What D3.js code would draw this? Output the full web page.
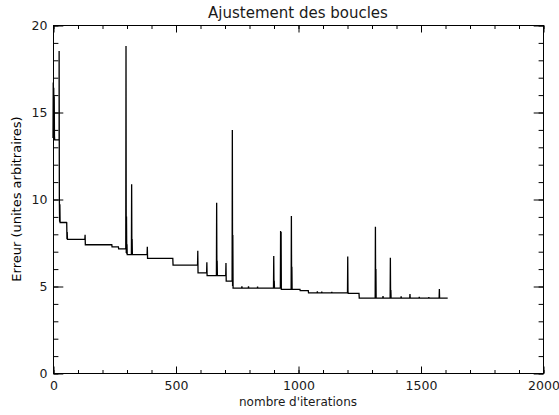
<!DOCTYPE html>
<html>
<head>
<meta charset="utf-8">
<script src="https://cdn.jsdelivr.net/npm/d3@7"></script>
<style>
  html, body { margin: 0; padding: 0; background: #fff; }
  svg { display: block; }
  text { font-family: "DejaVu Sans", sans-serif; fill: #1a1a1a; }
</style>
</head>
<body>
<svg id="chart" width="559" height="415"></svg>
<script>
// Fit error recorded along the loop-fitting iterations (vertices of the trace)
const iterations = [
  0, 1, 2, 3, 4, 5, 6, 7, 25, 25, 26, 27, 28, 29,
  55, 56, 57, 58, 59,
  130, 131, 132, 240, 241, 267, 268,
  297, 298, 299, 300, 301, 302, 303,
  320, 321, 322, 323, 324,
  384, 385, 386, 489, 490,
  590, 591, 592, 627, 628, 629,
  667, 668, 669, 670, 671,
  705, 706, 707, 731, 732, 733, 734, 735,
  770, 771, 772, 797, 798, 799, 834, 835, 836,
  900, 901, 902, 903, 904,
  928, 929, 930, 931, 932,
  972, 973, 974, 975, 976,
  1008, 1009, 1042, 1043,
  1078, 1079, 1080, 1096, 1097, 1098, 1137, 1138, 1139,
  1202, 1203, 1204, 1205, 1249, 1250,
  1315, 1316, 1317, 1318, 1319,
  1346, 1347, 1348,
  1376, 1377, 1378, 1379, 1380,
  1420, 1421, 1422, 1456, 1457, 1458,
  1494, 1495, 1496, 1533, 1534, 1535,
  1576, 1577, 1578, 1611
];
const errors = [
  13.5, 16.7, 13.5, 16.4, 13.4, 15.9, 13.6, 13.4, 13.4, 18.5, 9.9, 8.7, 9.7, 8.65,
  8.65, 8.64, 7.7, 8.1, 7.68,
  7.68, 7.95, 7.37, 7.37, 7.25, 7.25, 7.13,
  7.13, 18.8, 6.9, 9.0, 6.85, 7.4, 6.8,
  6.8, 10.85, 6.9, 7.7, 6.8,
  6.8, 7.26, 6.59, 6.59, 6.2,
  6.2, 7.02, 5.75, 5.75, 6.37, 5.6,
  5.6, 9.79, 5.7, 6.45, 5.6,
  5.6, 6.32, 5.28, 5.28, 13.97, 5.0, 7.93, 4.88,
  4.88, 4.98, 4.88, 4.88, 4.98, 4.88, 4.88, 4.96, 4.88,
  4.88, 6.72, 5.0, 5.3, 4.88,
  4.88, 8.16, 4.9, 8.1, 4.81,
  4.81, 9.02, 4.9, 6.1, 4.81,
  4.81, 4.73, 4.73, 4.6,
  4.6, 4.7, 4.6, 4.6, 4.68, 4.6, 4.6, 4.66, 4.6,
  4.6, 6.7, 4.7, 4.58, 4.58, 4.3,
  4.3, 8.41, 4.4, 5.98, 4.3,
  4.3, 4.42, 4.3,
  4.3, 6.63, 4.4, 4.77, 4.3,
  4.3, 4.4, 4.3, 4.3, 4.54, 4.3,
  4.3, 4.38, 4.3, 4.3, 4.36, 4.3,
  4.3, 4.83, 4.3, 4.3
];

const xTicks = [0, 500, 1000, 1500, 2000];
const yTicks = [0, 5, 10, 15, 20];
const xMinorTicks = d3.range(0, 2001, 100);
const yMinorTicks = d3.range(0, 21, 1);

const svg = d3.select("#chart");
const plotLeft = 53, plotRight = 543, plotTop = 25, plotBottom = 373;

const x = d3.scaleLinear().domain([0, 2000]).range([plotLeft, plotRight]);
const y = d3.scaleLinear().domain([0, 20]).range([plotBottom, plotTop]);

const xMajor = 7, xMinor = 3.5, yMajor = 9.8, yMinor = 4.9;

// frame
svg.append("rect")
  .attr("x", plotLeft + 0.5).attr("y", plotTop + 0.5)
  .attr("width", plotRight - plotLeft).attr("height", plotBottom - plotTop)
  .attr("fill", "none").attr("stroke", "#000").attr("stroke-width", 1);

function styleAxis(g) {
  g.select(".domain").remove();
  g.selectAll("line").attr("stroke", "#000").attr("stroke-width", 1);
  g.selectAll("text").style("font-size", "12.5px").attr("fill", "#1a1a1a");
}

// bottom axis with labels, inward ticks
svg.append("g").attr("transform", `translate(0.5,${plotBottom + 0.5})`)
  .call(d3.axisBottom(x).tickValues(xMinorTicks).tickSize(-xMinor).tickFormat(""))
  .call(styleAxis);
svg.append("g").attr("transform", `translate(0.5,${plotBottom + 0.5})`)
  .call(d3.axisBottom(x).tickValues(xTicks).tickSize(-xMajor).tickPadding(8).tickFormat(d3.format("d")))
  .call(styleAxis);

// top axis
svg.append("g").attr("transform", `translate(0.5,${plotTop + 0.5})`)
  .call(d3.axisTop(x).tickValues(xMinorTicks).tickSize(-xMinor).tickFormat(""))
  .call(styleAxis);
svg.append("g").attr("transform", `translate(0.5,${plotTop + 0.5})`)
  .call(d3.axisTop(x).tickValues(xTicks).tickSize(-xMajor).tickFormat(""))
  .call(styleAxis);

// left axis with labels
svg.append("g").attr("transform", `translate(${plotLeft + 0.5},0.5)`)
  .call(d3.axisLeft(y).tickValues(yMinorTicks).tickSize(-yMinor).tickFormat(""))
  .call(styleAxis);
svg.append("g").attr("transform", `translate(${plotLeft + 0.5},0.5)`)
  .call(d3.axisLeft(y).tickValues(yTicks).tickSize(-yMajor).tickPadding(6).tickFormat(d3.format("d")))
  .call(styleAxis);

// right axis
svg.append("g").attr("transform", `translate(${plotRight + 0.5},0.5)`)
  .call(d3.axisRight(y).tickValues(yMinorTicks).tickSize(-yMinor).tickFormat(""))
  .call(styleAxis);
svg.append("g").attr("transform", `translate(${plotRight + 0.5},0.5)`)
  .call(d3.axisRight(y).tickValues(yTicks).tickSize(-yMajor).tickFormat(""))
  .call(styleAxis);

// error trace
const pts = iterations.map((it, i) => [it, errors[i]]);
svg.append("path")
  .datum(pts)
  .attr("fill", "none")
  .attr("stroke", "#000")
  .attr("stroke-width", 1.3)
  .attr("stroke-linejoin", "miter")
  .attr("d", d3.line().x(d => x(d[0])).y(d => y(d[1])));

// titles
svg.append("text")
  .attr("x", (plotLeft + plotRight) / 2).attr("y", 18)
  .attr("text-anchor", "middle")
  .style("font-size", "15px")
  .text("Ajustement des boucles");

svg.append("text")
  .attr("x", (plotLeft + plotRight) / 2).attr("y", 406)
  .attr("text-anchor", "middle")
  .style("font-size", "12px")
  .text("nombre d'iterations");

// vertical axis title, drawn in its own group so it is rasterised in plain grey
svg.append("g")
  .attr("transform", `translate(21,${(plotTop + plotBottom) / 2}) rotate(-90)`)
  .style("opacity", 0.99)
  .append("text")
  .attr("text-anchor", "middle")
  .attr("fill", "#000")
  .style("fill", "#000")
  .style("font-size", "13px")
  .text("Erreur (unites arbitraires)");
</script>
</body>
</html>
